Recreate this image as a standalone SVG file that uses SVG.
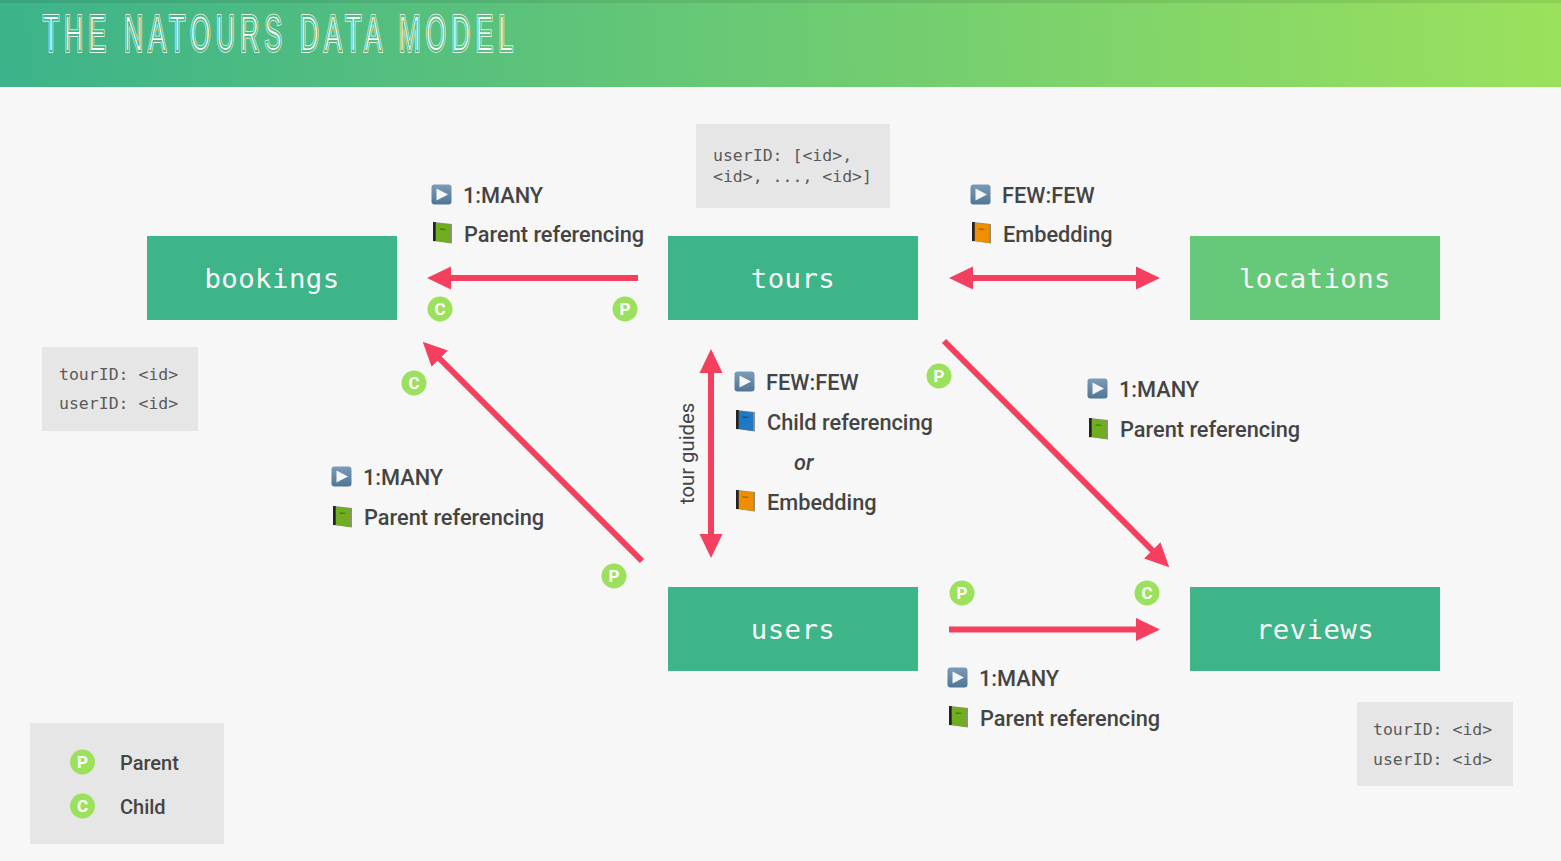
<svg xmlns="http://www.w3.org/2000/svg" xmlns:xlink="http://www.w3.org/1999/xlink" width="1561" height="861" viewBox="0 0 1561 861">
<style>
.n{fill:#3eb489}
.t{font-family:"DejaVu Sans Mono","Liberation Mono",monospace;font-size:27.4px;fill:#f7f7f7;text-anchor:middle;letter-spacing:.4px}
.m{font-family:"DejaVu Sans Mono","Liberation Mono",monospace;font-size:16.5px;fill:#5a5a5a}
.l{font-family:Roboto,"Liberation Sans",sans-serif;font-weight:500;font-size:21.75px;fill:#444}
.b{fill:#e6e6e6}
.bc{fill:#9be15d}
.bt{font-family:Roboto,"Liberation Sans",sans-serif;font-weight:700;font-size:17px;fill:#fff;text-anchor:middle}
.c{stroke:#f43f5e;stroke-width:6;fill:none}
.h{font-family:"Liberation Sans",Arial,sans-serif;font-size:50px}
</style>
<defs>
<linearGradient id="g" gradientUnits="userSpaceOnUse" x1="0" y1="60" x2="1561" y2="20"><stop offset="0" stop-color="#3cb38a"/><stop offset="1" stop-color="#9be15d"/></linearGradient>
<linearGradient id="gt" gradientUnits="userSpaceOnUse" x1="-83" y1="0" x2="2920" y2="0"><stop offset="0" stop-color="#3cb38a"/><stop offset="1" stop-color="#9be15d"/></linearGradient>
<linearGradient id="pg" x1="0" y1="0" x2="0" y2="1"><stop offset="0" stop-color="#7c9cb8"/><stop offset="1" stop-color="#4f7596"/></linearGradient>
<marker id="a" markerUnits="userSpaceOnUse" markerWidth="24" markerHeight="24" refX="1" refY="12" orient="auto-start-reverse"><path d="M0 .5L24 12L0 23.500z" fill="#f43f5e"/></marker>
<symbol id="play" viewBox="0 0 21 21" overflow="visible"><rect x=".5" y=".5" width="20" height="20" rx="3" fill="url(#pg)"/><path d="M5.500 4.500L17 10.500L5.500 16.500z" fill="#f4f6f8"/></symbol>
<symbol id="bk" viewBox="0 0 20 22" overflow="visible"><path d="M1 0L20 2V22.500L1 20z" fill="#8f8f7c"/><path d="M0 0H3V20H0z" fill="#222"/><path d="M3 1L18 2.500V22L3 20z" fill="currentColor"/><path d="M7 6.500l6 .5v1.500l-6-.5z" fill="#000" opacity=".3"/></symbol>
</defs>
<rect width="1561" height="861" fill="#f7f7f7"/>
<rect id="header" width="1561" height="87" fill="url(#g)"/>
<rect width="1561" height="3" fill="#000" opacity=".08"/>
<g id="title" class="h" transform="translate(43 51) scale(.52 1)">
<text x="0" y="0" fill="#fff" stroke="#fff" stroke-width="3.4" textLength="904" lengthAdjust="spacing">THE NATOURS DATA MODEL</text>
<text x="0" y="0" fill="none" stroke="url(#gt)" stroke-width="1.900" textLength="904" lengthAdjust="spacing">THE NATOURS DATA MODEL</text>
</g>

<g id="connectors" class="c">
<line x1="638" y1="278" x2="450" y2="278" marker-end="url(#a)"/>
<line x1="972" y1="278" x2="1137" y2="278" marker-start="url(#a)" marker-end="url(#a)"/>
<line x1="711" y1="372" x2="711" y2="535" marker-start="url(#a)" marker-end="url(#a)"/>
<line x1="642" y1="561" x2="439" y2="358" marker-end="url(#a)"/>
<line x1="944" y1="341" x2="1153" y2="551" marker-end="url(#a)"/>
<line x1="949" y1="629.500" x2="1137" y2="629.500" marker-end="url(#a)"/>
</g>

<g id="bookings"><rect class="n" x="147" y="236" width="250" height="84"/><text class="t" x="272" y="288">bookings</text></g>
<g id="tours"><rect class="n" x="668" y="236" width="250" height="84"/><text class="t" x="793" y="288">tours</text></g>
<g id="locations"><rect x="1190" y="236" width="250" height="84" fill="#66c97a"/><text class="t" x="1315" y="288">locations</text></g>
<g id="users"><rect class="n" x="668" y="587" width="250" height="84"/><text class="t" x="793" y="639">users</text></g>
<g id="reviews"><rect class="n" x="1190" y="587" width="250" height="84"/><text class="t" x="1315" y="639">reviews</text></g>

<g id="note-tours"><rect class="b" x="696" y="124" width="194" height="84"/><text class="m" x="713" y="161">userID: [&lt;id&gt;,</text><text class="m" x="713" y="182">&lt;id&gt;, ..., &lt;id&gt;]</text></g>
<g id="note-bookings"><rect class="b" x="42" y="347" width="156" height="84"/><text class="m" x="59" y="380">tourID: &lt;id&gt;</text><text class="m" x="59" y="409">userID: &lt;id&gt;</text></g>
<g id="note-reviews"><rect class="b" x="1357" y="702" width="156" height="84"/><text class="m" x="1373" y="735">tourID: &lt;id&gt;</text><text class="m" x="1373" y="765">userID: &lt;id&gt;</text></g>

<g id="rel-bookings-tours"><use href="#play" x="431" y="184" width="21" height="21"/><text class="l" x="463" y="203">1:MANY</text><use href="#bk" x="433" y="222" width="19" height="21" color="#6fae1e"/><text class="l" x="464" y="242">Parent referencing</text></g>
<g id="rel-tours-locations"><use href="#play" x="970" y="184" width="21" height="21"/><text class="l" x="1002" y="203">FEW:FEW</text><use href="#bk" x="972" y="222" width="19" height="21" color="#ef8f00"/><text class="l" x="1003" y="242">Embedding</text></g>
<g id="rel-tours-reviews"><use href="#play" x="1087" y="378" width="21" height="21"/><text class="l" x="1119" y="397">1:MANY</text><use href="#bk" x="1089" y="418" width="19" height="21" color="#6fae1e"/><text class="l" x="1120" y="437">Parent referencing</text></g>
<g id="rel-users-bookings"><use href="#play" x="331" y="466" width="21" height="21"/><text class="l" x="363" y="485">1:MANY</text><use href="#bk" x="333" y="506" width="19" height="21" color="#6fae1e"/><text class="l" x="364" y="525">Parent referencing</text></g>
<g id="rel-users-reviews"><use href="#play" x="947" y="667" width="21" height="21"/><text class="l" x="979" y="686">1:MANY</text><use href="#bk" x="949" y="706" width="19" height="21" color="#6fae1e"/><text class="l" x="980" y="726">Parent referencing</text></g>
<g id="rel-tours-users"><use href="#play" x="734" y="371" width="21" height="21"/><text class="l" x="766" y="390">FEW:FEW</text><use href="#bk" x="736" y="410" width="19" height="21" color="#1f78c4"/><text class="l" x="767" y="430">Child referencing</text><text class="l" x="794" y="470" font-style="italic">or</text><use href="#bk" x="736" y="490" width="19" height="21" color="#ef8f00"/><text class="l" x="767" y="510">Embedding</text>
<text class="l" transform="translate(694 504) rotate(-90)" style="font-weight:400;font-size:20.300px">tour guides</text></g>

<g id="badges">
<circle class="bc" cx="440" cy="309" r="12.500"/><text class="bt" x="440" y="315">C</text>
<circle class="bc" cx="625" cy="309" r="12.500"/><text class="bt" x="625" y="315">P</text>
<circle class="bc" cx="414" cy="383" r="12.500"/><text class="bt" x="414" y="389">C</text>
<circle class="bc" cx="939" cy="376" r="12.500"/><text class="bt" x="939" y="382">P</text>
<circle class="bc" cx="614" cy="576" r="12.500"/><text class="bt" x="614" y="582">P</text>
<circle class="bc" cx="962" cy="593" r="12.500"/><text class="bt" x="962" y="599">P</text>
<circle class="bc" cx="1147" cy="593" r="12.500"/><text class="bt" x="1147" y="599">C</text>
</g>

<g id="legend"><rect class="b" x="30" y="723" width="194" height="121"/>
<circle class="bc" cx="82.500" cy="762" r="12.500"/><text class="bt" x="82.500" y="768">P</text>
<circle class="bc" cx="82.500" cy="806" r="12.500"/><text class="bt" x="82.500" y="812">C</text>
<text class="l" x="120" y="770" style="font-size:20px">Parent</text><text class="l" x="120" y="814" style="font-size:20px">Child</text></g>
</svg>
